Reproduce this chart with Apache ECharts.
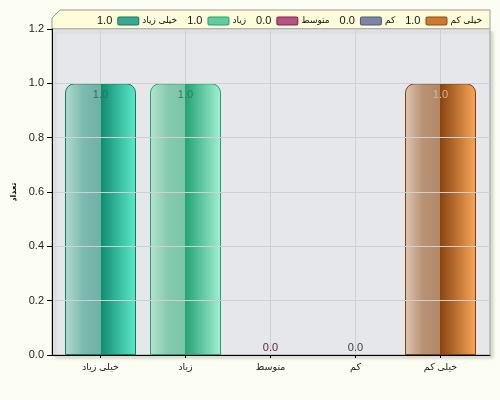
<!DOCTYPE html>
<html>
<head>
<meta charset="utf-8">
<script src="https://cdn.jsdelivr.net/npm/echarts@6/dist/echarts.min.js"></script>
<style>
html,body{margin:0;padding:0;background:#fdfef3;}
#c{width:500px;height:400px;}
</style>
</head>
<body>
<div id="c"></div>
<script>
var categories = ['خیلی زیاد', 'زیاد', 'متوسط', 'کم', 'خیلی کم'];
var values = [1.0, 1.0, 0.0, 0.0, 1.0];
var yTicks = { min: 0, max: 1.2, interval: 0.2 };
var yName = 'تعداد';

var FONT = '"Liberation Sans", "DejaVu Sans", sans-serif';
var palette = [
  { stops: ['#b2d9d1', '#7cbbaf', '#6fb1a5', '#0f8a70', '#5de9c9'], border: '#0d7a61', label: '#2f6d62', sw: '#3aa88f', swb: '#107a62' },
  { stops: ['#b6e3d0', '#85caaf', '#7bc5a9', '#23a474', '#a4efd5'], border: '#1f9e6e', label: '#2f7a5d', sw: '#62cba3', swb: '#22a070' },
  { stops: ['#e0a8c0', '#c87898', '#c07090', '#902050', '#e890b8'], border: '#802050', label: '#5a1a36', sw: '#b55580', swb: '#802050' },
  { stops: ['#c0c6d8', '#959cb4', '#8c94ac', '#4c5674', '#a8b4d8'], border: '#4c5674', label: '#3b3b4a', sw: '#7a86a4', swb: '#505a78' },
  { stops: ['#dec6b2', '#b99274', '#b08868', '#8a4511', '#f9a659'], border: '#7a4010', label: '#dcb595', sw: '#cc7a32', swb: '#8a4a10' }
];

function grad(s) {
  return new echarts.graphic.LinearGradient(0, 0, 1, 0, [
    { offset: 0, color: s[0] },
    { offset: 0.25, color: s[1] },
    { offset: 0.5, color: s[2] },
    { offset: 0.5, color: s[3] },
    { offset: 1, color: s[4] }
  ]);
}

var rich = {
  v: { fontFamily: FONT, fontSize: 11, color: '#111', padding: [0, 6, 0, 0] },
  n: { fontFamily: FONT, fontSize: 9, color: '#111', padding: [0, 0, 0, 4] }
};
palette.forEach(function (p, i) {
  rich['s' + i] = { width: 20, height: 7, backgroundColor: p.sw, borderColor: p.swb, borderWidth: 1, borderRadius: 1 };
});

var series = categories.map(function (cat, i) {
  var p = palette[i];
  return {
    name: cat,
    type: 'bar',
    stack: 'all',
    xAxisIndex: 1,
    yAxisIndex: 1,
    barWidth: 71,
    data: categories.map(function (c, j) {
      if (j !== i) return '-';
      var v = values[i];
      return {
        value: v,
        itemStyle: { borderWidth: v === 0 ? 0 : 1 },
        label: v === 0 ? { position: 'top', distance: 2 } : { position: 'insideTop', distance: 6 }
      };
    }),
    itemStyle: { color: grad(p.stops), borderColor: p.border, borderWidth: 1, borderRadius: [9, 9, 0, 0] },
    label: {
      show: true,
      fontFamily: FONT,
      fontSize: 11,
      color: p.label,
      formatter: function (d) { return Number(d.value).toFixed(1); }
    }
  };
});

var chart = echarts.init(document.getElementById('c'));
chart.setOption({
  backgroundColor: '#fdfef3',
  animation: false,
  graphic: [{
    type: 'polygon',
    z: -10,
    shape: { points: [[52, 29], [52, 18], [60, 10], [490, 10], [490, 29]] },
    style: { fill: '#fffcdc', stroke: '#9a9a9a', lineWidth: 1 }
  }],
  legend: {
    right: 13,
    top: 10,
    itemWidth: 0,
    itemHeight: 0,
    itemGap: 4,
    data: categories,
    formatter: function (name) {
      var i = categories.indexOf(name);
      return '{v|' + values[i].toFixed(1) + '}{s' + i + '| }{n|' + name + '}';
    },
    textStyle: { rich: rich }
  },
  grid: [
    { left: 52, right: 10, top: 29, bottom: 45, show: true, backgroundColor: '#e6e7ea', borderColor: '#9a9a9a', borderWidth: 1,
      shadowColor: 'rgba(0,0,0,0.14)', shadowBlur: 3, shadowOffsetX: 3, shadowOffsetY: 3 },
    { left: 58, right: 17, top: 29, bottom: 45 },
    { left: 100.5, right: 59.5, top: 29, bottom: 45 }
  ],
  xAxis: [
    { gridIndex: 0, type: 'value', min: 0, max: 1, axisLine: { show: true, lineStyle: { color: '#000', width: 1 } },
      axisTick: { show: false }, axisLabel: { show: false }, splitLine: { show: false }, z: 3 },
    { gridIndex: 1, type: 'category', data: categories, axisLine: { show: false },
      axisTick: { show: true, alignWithLabel: true, length: 3, lineStyle: { color: '#000' } },
      axisLabel: { fontFamily: FONT, fontSize: 9.5, color: '#222', margin: 7 }, splitLine: { show: false } },
    { gridIndex: 2, type: 'value', min: 0, max: 4, interval: 1, axisLine: { show: false }, axisTick: { show: false },
      axisLabel: { show: false }, splitLine: { show: true, lineStyle: { color: '#d0d0d0' } }, z: 1 }
  ],
  yAxis: [
    { gridIndex: 0, type: 'value', min: yTicks.min, max: yTicks.max, interval: yTicks.interval,
      name: yName, nameLocation: 'middle', nameRotate: 90, nameGap: 33,
      nameTextStyle: { fontFamily: FONT, fontSize: 8, fontWeight: 'bold', color: '#111' },
      axisLine: { show: true, lineStyle: { color: '#000', width: 1 } },
      axisTick: { show: true, length: 5, lineStyle: { color: '#000' } },
      axisLabel: { fontFamily: FONT, fontSize: 11, color: '#222', margin: 8, formatter: function (v) { return v.toFixed(1); } },
      splitLine: { show: true, lineStyle: { color: '#d0d0d0' } }, z: 3 },
    { gridIndex: 1, type: 'value', min: yTicks.min, max: yTicks.max, interval: yTicks.interval, show: false },
    { gridIndex: 2, type: 'value', min: yTicks.min, max: yTicks.max, interval: yTicks.interval, show: false }
  ],
  series: series
});
</script>
</body>
</html>
